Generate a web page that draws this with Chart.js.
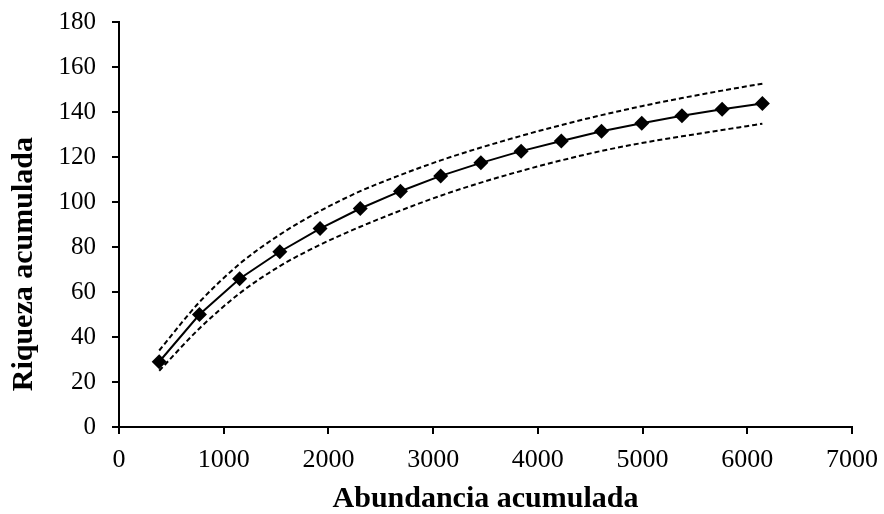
<!DOCTYPE html>
<html>
<head>
<meta charset="utf-8">
<script src="https://cdn.jsdelivr.net/npm/chart.js@4.4.1/dist/chart.umd.min.js"></script>
<style>
  html, body { margin: 0; padding: 0; background: #ffffff; }
  #wrap { width: 884px; height: 514px; position: relative; }
</style>
</head>
<body>
<div id="wrap"><canvas id="c" width="884" height="514"></canvas></div>
<script>
// Data
const abundance = [384, 768, 1152, 1536, 1920, 2304, 2688, 3072, 3456, 3840, 4224, 4608, 4992, 5376, 5760, 6144];
const richness  = [29.0, 50.0, 65.9, 77.9, 88.2, 97.1, 104.8, 111.6, 117.4, 122.6, 127.1, 131.4, 135.0, 138.3, 141.2, 143.8];
const upperCI   = [34.0, 55.5, 72.5, 85.5, 96.0, 104.8, 112.0, 118.5, 124.2, 129.4, 134.2, 138.6, 142.6, 146.2, 149.5, 152.6];
const lowerCI   = [25.0, 43.8, 59.4, 71.5, 81.0, 89.0, 96.2, 102.8, 108.6, 113.8, 118.5, 122.7, 126.2, 129.2, 132.0, 134.8];
const xTitle = 'Abundancia acumulada';
const yTitle = 'Riqueza acumulada';

const toPts = (ys) => abundance.map((x, i) => ({ x: x, y: ys[i] }));
const FONT = '"Liberation Serif", "Times New Roman", serif';

const yTitlePlugin = {
  id: 'yTitlePlugin',
  afterDraw(chart) {
    const ctx = chart.ctx;
    const area = chart.chartArea;
    ctx.save();
    ctx.fillStyle = '#000';
    ctx.font = 'bold 30px ' + FONT;
    ctx.textAlign = 'center';
    ctx.textBaseline = 'middle';
    ctx.translate(24, area.top + (area.bottom - area.top) * 0.598);
    ctx.rotate(-Math.PI / 2);
    ctx.fillText(yTitle, 0, 0);
    ctx.restore();
  }
};

new Chart(document.getElementById('c'), {
  type: 'line',
  data: {
    datasets: [
      {
        label: 'Riqueza',
        data: toPts(richness),
        borderColor: '#000',
        backgroundColor: '#000',
        borderWidth: 2,
        pointStyle: 'rectRot',
        pointRadius: 7.5,
        pointBorderWidth: 0,
        tension: 0,
        order: 0
      },
      {
        label: 'IC superior',
        data: toPts(upperCI),
        borderColor: '#000',
        borderWidth: 2,
        borderDash: [5, 3],
        pointRadius: 0,
        cubicInterpolationMode: 'monotone',
        order: 1
      },
      {
        label: 'IC inferior',
        data: toPts(lowerCI),
        borderColor: '#000',
        borderWidth: 2,
        borderDash: [5, 3],
        pointRadius: 0,
        cubicInterpolationMode: 'monotone',
        order: 1
      }
    ]
  },
  options: {
    responsive: false,
    animation: false,
    devicePixelRatio: 1,
    layout: { padding: { left: 0, right: 32, top: 22, bottom: 0 } },
    plugins: {
      legend: { display: false },
      tooltip: { enabled: false }
    },
    scales: {
      x: {
        type: 'linear',
        min: 0,
        max: 7000,
        border: { color: '#000', width: 2 },
        grid: { drawOnChartArea: false, color: '#000', tickLength: 7, lineWidth: 2 },
        ticks: {
          stepSize: 1000,
          color: '#000',
          padding: 11,
          maxRotation: 0,
          callback: (v) => String(v),
          font: { family: FONT, size: 26 }
        },
        title: {
          display: true,
          text: xTitle,
          color: '#000',
          font: { family: FONT, size: 30, weight: 'bold', lineHeight: 1.0 },
          padding: { top: 21, bottom: 0 }
        },
        afterFit: (s) => { s.height = 87; s.paddingLeft = 0; s.paddingRight = 0; }
      },
      y: {
        type: 'linear',
        min: 0,
        max: 180,
        border: { color: '#000', width: 2 },
        grid: { drawOnChartArea: false, color: '#000', tickLength: 7, lineWidth: 2 },
        ticks: {
          stepSize: 20,
          color: '#000',
          padding: 16,
          font: { family: FONT, size: 25 }
        },
        afterFit: (s) => { s.width = 119; s.paddingTop = 0; s.paddingBottom = 0; }
      }
    }
  },
  plugins: [yTitlePlugin]
});
</script>
</body>
</html>
